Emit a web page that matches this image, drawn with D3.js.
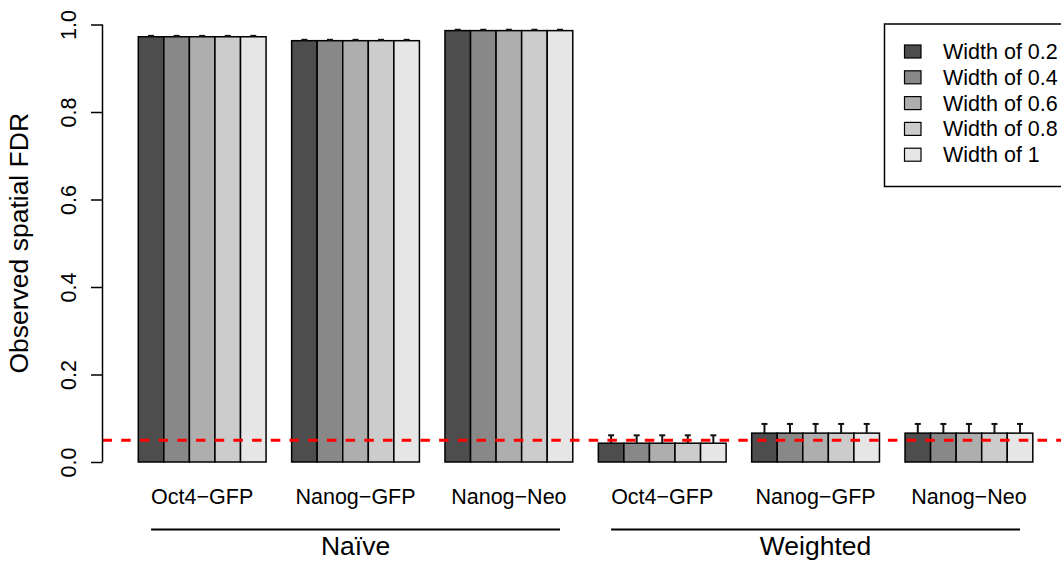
<!DOCTYPE html>
<html>
<head>
<meta charset="utf-8">
<script src="https://cdn.jsdelivr.net/npm/d3@7"></script>
<style>
  html, body { margin: 0; padding: 0; background: #fff; }
  svg text { font-family: "Liberation Sans", Arial, Helvetica, sans-serif; fill: #000; }
</style>
</head>
<body>
<svg id="chart" width="1061" height="561"></svg>
<script>
// Observed spatial FDR per cell line, for two methods and five window widths
const methods = ["Naïve", "Weighted"];
const cellLines = ["Oct4−GFP", "Nanog−GFP", "Nanog−Neo"];
const widthLabels = ["Width of 0.2", "Width of 0.4", "Width of 0.6", "Width of 0.8", "Width of 1"];
const widthColors = ["#4D4D4D", "#888888", "#AEAEAE", "#CCCCCC", "#E6E6E6"];

// one row per method × cell line, one entry per width
const fdrNaive = [
  [0.972, 0.972, 0.972, 0.972, 0.972],
  [0.963, 0.963, 0.963, 0.963, 0.963],
  [0.986, 0.986, 0.986, 0.986, 0.986]
];
const fdrWeighted = [
  [0.043, 0.043, 0.043, 0.043, 0.043],
  [0.066, 0.066, 0.066, 0.066, 0.066],
  [0.066, 0.066, 0.066, 0.066, 0.066]
];
const seNaive = [
  [0.002, 0.002, 0.002, 0.002, 0.002],
  [0.002, 0.002, 0.002, 0.002, 0.002],
  [0.002, 0.002, 0.002, 0.002, 0.002]
];
const seWeighted = [
  [0.018, 0.018, 0.018, 0.018, 0.018],
  [0.021, 0.021, 0.021, 0.021, 0.021],
  [0.021, 0.021, 0.021, 0.021, 0.021]
];
const targetFDR = 0.05;
const yTicks = [0, 0.2, 0.4, 0.6, 0.8, 1.0];

// flatten into groups: each group has a leading gap of one bar then five bars
const groups = [];
[fdrNaive, fdrWeighted].forEach((tab, m) => {
  const se = m === 0 ? seNaive : seWeighted;
  tab.forEach((row, c) => {
    groups.push({ method: methods[m], line: cellLines[c], values: row, se: se[c] });
  });
});
const barsPerGroup = widthLabels.length;
const unitsPerGroup = barsPerGroup + 1;
const totalUnits = groups.length * unitsPerGroup;

const svg = d3.select("#chart");

// x in bar-width units, padded 4% on each side like the base plot window
const padX = 0.04 * (totalUnits - 1);
const x = d3.scaleLinear().domain([1 - padX, totalUnits + padX]).range([102.5, 1068.6]);
const y = d3.scaleLinear().domain([-0.04, 1.04]).range([479.5, 7]);

const barLayer = svg.append("g");
groups.forEach((g, gi) => {
  g.values.forEach((v, j) => {
    const u = gi * unitsPerGroup + 1 + j;
    barLayer.append("rect")
      .attr("x", x(u))
      .attr("y", y(v))
      .attr("width", x(u + 1) - x(u))
      .attr("height", y(0) - y(v))
      .attr("fill", widthColors[j])
      .attr("stroke", "#000")
      .attr("stroke-width", 1.5);
  });
});

// upper error bars with flat caps
const errLayer = svg.append("g").attr("stroke", "#111").attr("stroke-width", 2);
groups.forEach((g, gi) => {
  g.values.forEach((v, j) => {
    const u = gi * unitsPerGroup + 1 + j + 0.5;
    const cx = x(u);
    const top = y(v + g.se[j]);
    errLayer.append("line").attr("x1", cx).attr("x2", cx).attr("y1", y(v)).attr("y2", top);
    errLayer.append("line").attr("x1", cx - 3).attr("x2", cx + 3).attr("y1", top).attr("y2", top);
  });
});

// target FDR reference line
svg.append("line")
  .attr("x1", x.range()[0]).attr("x2", x.range()[1])
  .attr("y1", y(targetFDR)).attr("y2", y(targetFDR))
  .attr("stroke", "#FF0000")
  .attr("stroke-width", 3)
  .attr("stroke-dasharray", "9.5,9.2");

// y axis
const axisG = svg.append("g")
  .attr("transform", `translate(${x.range()[0]},0)`)
  .call(d3.axisLeft(y).tickValues(yTicks).tickFormat(d3.format(".1f")).tickSize(11.5).tickSizeOuter(0));
axisG.select(".domain").remove();
axisG.append("line")
  .attr("x1", 0).attr("x2", 0)
  .attr("y1", y(0)).attr("y2", y(1))
  .attr("stroke", "#000").attr("stroke-width", 1.5);
axisG.selectAll(".tick line").attr("stroke", "#000").attr("stroke-width", 1.5);
axisG.selectAll(".tick text")
  .attr("transform", "rotate(-90)")
  .attr("x", 0).attr("y", -27).attr("dy", null)
  .attr("text-anchor", "middle")
  .style("font-size", "21.5px")
  .attr("fill", "#000");

// y axis title, centred on the plot region
svg.append("text")
  .attr("transform", `translate(28,${(y.range()[0] + y.range()[1]) / 2}) rotate(-90)`)
  .attr("text-anchor", "middle")
  .style("font-size", "26.5px")
  .text("Observed spatial FDR");

// cell line labels under each group
groups.forEach((g, gi) => {
  const mid = gi * unitsPerGroup + 1 + barsPerGroup / 2;
  svg.append("text")
    .attr("x", x(mid)).attr("y", 503.5)
    .attr("text-anchor", "middle")
    .style("font-size", "21.5px")
    .text(g.line);
});

// method brackets and labels
methods.forEach((m, mi) => {
  const start = mi * cellLines.length * unitsPerGroup + 1;
  const end = (mi + 1) * cellLines.length * unitsPerGroup;
  svg.append("line")
    .attr("x1", x(start + 0.5)).attr("x2", x(end - 0.5))
    .attr("y1", 529.5).attr("y2", 529.5)
    .attr("stroke", "#000").attr("stroke-width", 2);
  svg.append("text")
    .attr("x", x((start + end) / 2)).attr("y", 555)
    .attr("text-anchor", "middle")
    .style("font-size", "26.5px")
    .text(m);
});

// legend
const leg = svg.append("g");
leg.append("rect")
  .attr("x", 884.5).attr("y", 24).attr("width", 200).attr("height", 162.5)
  .attr("fill", "#fff").attr("stroke", "#000").attr("stroke-width", 1.5);
widthLabels.forEach((lab, i) => {
  const cy = 51.5 + i * 25.8;
  leg.append("rect")
    .attr("x", 904.5).attr("y", cy - 6.5).attr("width", 16.5).attr("height", 13)
    .attr("fill", widthColors[i]).attr("stroke", "#000").attr("stroke-width", 1.2);
  leg.append("text")
    .attr("x", 943).attr("y", cy + 7.5)
    .style("font-size", "21.5px")
    .text(lab);
});
</script>
</body>
</html>
